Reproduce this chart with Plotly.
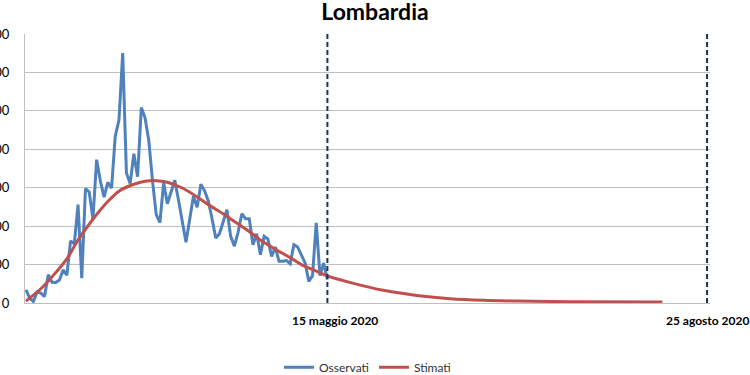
import datetime as dt
import plotly.graph_objects as go

start = dt.date(2020, 2, 24)

# Observed daily values (Feb 24 .. May 15, 2020)
osservati = [172, 68, 18, 145, 128, 84, 369, 270, 266, 300,
             431, 361, 808, 769, 1280, 322, 1489, 1445, 1095, 1865,
             1587, 1377, 1571, 1493, 2171, 2380, 3251, 1691, 1555, 1942,
             1643, 2543, 2409, 2117, 1592, 1154, 1047, 1565, 1292, 1455,
             1598, 1337, 1079, 791, 1089, 1388, 1246, 1544, 1460, 1327,
             1097, 845, 902, 1063, 1214, 870, 740, 920, 1161, 1097,
             1097, 759, 902, 629, 868, 833, 607, 729, 542, 542,
             551, 512, 759, 729, 629, 521, 282, 356, 1042, 356,
             521, 304]

# Estimated curve, read at sampled days (offset in days from Feb 24)
stimati_day = [0, 4, 7, 11, 14, 18, 22, 25, 29, 32, 35, 38, 42, 46, 49, 53,
               56, 60, 63, 67, 71, 74, 78, 81, 88, 96, 105, 114, 123, 132,
               141, 150, 171]
stimati_val = [25, 185, 340, 575, 820, 1090, 1320, 1455, 1545, 1583, 1592, 1572,
               1496, 1380, 1280, 1160, 1060, 930, 820, 700, 590, 500, 415, 352,
               255, 165, 99, 56, 35, 26, 20, 16, 12]

tick_dates = [dt.date(2020, 5, 15), dt.date(2020, 8, 25)]
tick_labels = ["15 maggio 2020", "25 agosto 2020"]
label_shift = [8, 0]

x_obs = [start + dt.timedelta(days=i) for i in range(len(osservati))]
x_est = [start + dt.timedelta(days=d) for d in stimati_day]

fig = go.Figure()
fig.add_trace(go.Scatter(x=x_obs, y=osservati, mode="lines", name="Osservati",
                         line=dict(color="#4F81BD", width=3)))
fig.add_trace(go.Scatter(x=x_est, y=stimati_val, mode="lines", name="Stimati",
                         line=dict(color="#C0504D", width=3, shape="spline", smoothing=0.8)))

for d in tick_dates:
    fig.add_shape(type="line", xref="x", yref="y", x0=d, x1=d, y0=0, y1=3500,
                  line=dict(color="#1F3050", width=2, dash="5px,3px"), layer="above")

for d, t, s in zip(tick_dates, tick_labels, label_shift):
    fig.add_annotation(x=d, y=0, xref="x", yref="paper", text="<b>" + t + "</b>",
                       showarrow=False, yanchor="top", yshift=-8, xshift=s,
                       font=dict(size=12, color="#000000", family="Lato"))

x0 = dt.datetime(2020, 2, 23, 18)
x1 = dt.datetime(2020, 8, 25, 19)

fig.update_layout(
    width=750, height=375,
    margin=dict(l=25, r=40, t=34, b=72, autoexpand=False),
    paper_bgcolor="white", plot_bgcolor="white",
    font=dict(family="Lato", size=12, color="#000000"),
    title=dict(text="<b>Lombardia</b>", x=0.5, xref="container", xanchor="center",
               y=0.968, yref="container", yanchor="middle",
               font=dict(size=23, family="Lato", color="#000000")),
    showlegend=True,
    legend=dict(orientation="h", x=0.5, xanchor="center", y=-0.185, yanchor="top",
                font=dict(size=12, color="#333333", family="Lato"),
                itemwidth=30, bgcolor="rgba(0,0,0,0)"),
    xaxis=dict(type="date", range=[x0, x1], showgrid=False, showticklabels=False,
               showline=True, linecolor="#BFBFBF", linewidth=1, zeroline=False,
               ticks="", automargin=False),
    yaxis=dict(range=[0, 3500], dtick=500, tick0=0, showgrid=True, gridcolor="#BFBFBF",
               gridwidth=1, showline=True, linecolor="#BFBFBF", linewidth=1,
               zeroline=False, ticks="", ticklabelstandoff=12, automargin=False,
               tickfont=dict(size=13, color="#000000", family="Lato")),
)

fig.write_html("out.html", config={"displayModeBar": False},
               post_script="document.body.style.margin='0';document.body.style.overflow='hidden';")
